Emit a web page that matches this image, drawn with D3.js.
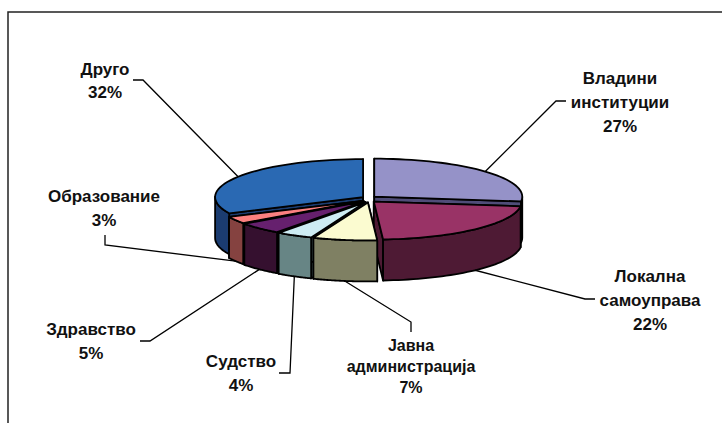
<!DOCTYPE html>
<html>
<head>
<meta charset="utf-8">
<script src="https://cdn.jsdelivr.net/npm/d3@7"></script>
<style>
  html, body { margin: 0; padding: 0; background: #fff; }
  text { font-family: "Liberation Sans", Arial, sans-serif; font-weight: bold; fill: #111; }
</style>
</head>
<body>
<div id="container"></div>
<script>
/* DATA */
const categories = ["Владини институции", "Локална самоуправа", "Јавна администрација", "Судство", "Здравство", "Образование", "Друго"];
const values = [27, 22, 7, 4, 5, 3, 32];
const labelLines = [
  ["Владини", "институции", "27%"],
  ["Локална", "самоуправа", "22%"],
  ["Јавна", "администрација", "7%"],
  ["Судство", "4%"],
  ["Здравство", "5%"],
  ["Образование", "3%"],
  ["Друго", "32%"]
];
const topColors = ["#9592c8", "#993366", "#fbfbd0", "#cdecf3", "#66206e", "#fb8080", "#2a69b3"];
const sideColors = ["#4f4d78", "#4e1a34", "#7f8063", "#678585", "#35102f", "#854240", "#1b3c70"];

/* CONSTANTS */
const width = 722;
const height = 423;
const cx = 369, cy = 199;
const rx = 148, ry = 38, depth = 41;
const explode = 7;

// label anchor (centre x, first baseline), line step, font size, leader elbow + end
const labelLayout = [
  { x: 620, y: 84, step: 24, size: 17, elbow: [556, 101], end: [566, 101] },
  { x: 650, y: 282, step: 24, size: 17, elbow: [585, 299], end: [595, 299] },
  { x: 411, y: 351, step: 21, size: 16, elbow: [411, 322], end: [411, 332] },
  { x: 241, y: 367, step: 24, size: 17, elbow: [290, 373], end: [279, 373] },
  { x: 91, y: 335, step: 24, size: 17, elbow: [150, 341], end: [140, 341] },
  { x: 104, y: 202, step: 24, size: 17, elbow: [105, 245], end: [105, 235] },
  { x: 105, y: 75, step: 23, size: 17, elbow: [143, 80], end: [133, 80] }
];

/* SCALES */
const pie = d3.pie().sort(null).value(d => d);
const arcs = pie(values);

const xScale = d3.scaleLinear().domain([-1, 1]).range([cx - rx, cx + rx]);
const yScale = d3.scaleLinear().domain([-1, 1]).range([cy + ry, cy - ry]);

// offset of a slice, pushed out along its middle angle
function offset(d) {
  const mid = (d.startAngle + d.endAngle) / 2;
  return [explode * Math.sin(mid), -explode * 0.5 * Math.cos(mid)];
}
function rim(d, a, dz = 0) {
  const o = offset(d);
  return [xScale(Math.sin(a)) + o[0], yScale(Math.cos(a)) + o[1] + dz];
}
function apex(d, dz = 0) {
  const o = offset(d);
  return [cx + o[0], cy + o[1] + dz];
}
const line = d3.line();

/* HTML ELEMENTS */
const svg = d3.select("#container")
  .append("svg")
  .attr("width", width)
  .attr("height", height)
  .style("display", "block");

// chart frame, only top and left are in the picture
svg.append("path")
  .attr("d", line([[8, height], [8, 12], [width, 12]]))
  .attr("fill", "none")
  .attr("stroke", "#222")
  .attr("stroke-width", 1.5);

const stroke = { color: "#000", width: 1.8 };

function arcPoints(d) {
  return d3.range(0, 41).map(i => d.startAngle + (d.endAngle - d.startAngle) * i / 40);
}

// draw back slices first, so front walls lie on top
const order = [0, 6, 5, 4, 3, 1, 2];

order.forEach(i => {
  const d = arcs[i];
  const g = svg.append("g");
  const angles = arcPoints(d);
  const bottomHalf = angles.filter(a => Math.cos(a) <= 0.02);

  // side faces at the cut edges
  [d.startAngle, d.endAngle].forEach(a => {
    g.append("path")
      .attr("d", line([apex(d), rim(d, a), rim(d, a, depth), apex(d, depth)]) + "Z")
      .attr("fill", sideColors[i])
      .attr("stroke", stroke.color)
      .attr("stroke-width", stroke.width)
      .attr("stroke-linejoin", "round");
  });

  // outer wall
  if (bottomHalf.length > 1) {
    const pts = bottomHalf.map(a => rim(d, a))
      .concat(bottomHalf.slice().reverse().map(a => rim(d, a, depth)));
    g.append("path")
      .attr("d", line(pts) + "Z")
      .attr("fill", sideColors[i])
      .attr("stroke", stroke.color)
      .attr("stroke-width", stroke.width)
      .attr("stroke-linejoin", "round");
  }

  // top face
  g.append("path")
    .attr("d", line([apex(d)].concat(angles.map(a => rim(d, a)))) + "Z")
    .attr("fill", topColors[i])
    .attr("stroke", stroke.color)
    .attr("stroke-width", stroke.width)
    .attr("stroke-linejoin", "round");
});

// Leader lines, from the middle of each slice's rim to its label
arcs.forEach((d, i) => {
  const l = labelLayout[i];
  const a = (d.startAngle + d.endAngle) / 2;
  const front = Math.cos(a) < 0;
  const p = rim(d, a, front ? depth : 0);
  svg.append("path")
    .attr("d", line([p, l.elbow, l.end]))
    .attr("fill", "none")
    .attr("stroke", "#000")
    .attr("stroke-width", 1.3);
});

// Labels
arcs.forEach((d, i) => {
  const l = labelLayout[i];
  const t = svg.append("text")
    .attr("text-anchor", "middle")
    .style("font-size", l.size + "px");
  labelLines[i].forEach((s, k) => {
    t.append("tspan").attr("x", l.x).attr("y", l.y + k * l.step).text(s);
  });
});
</script>
</body>
</html>
